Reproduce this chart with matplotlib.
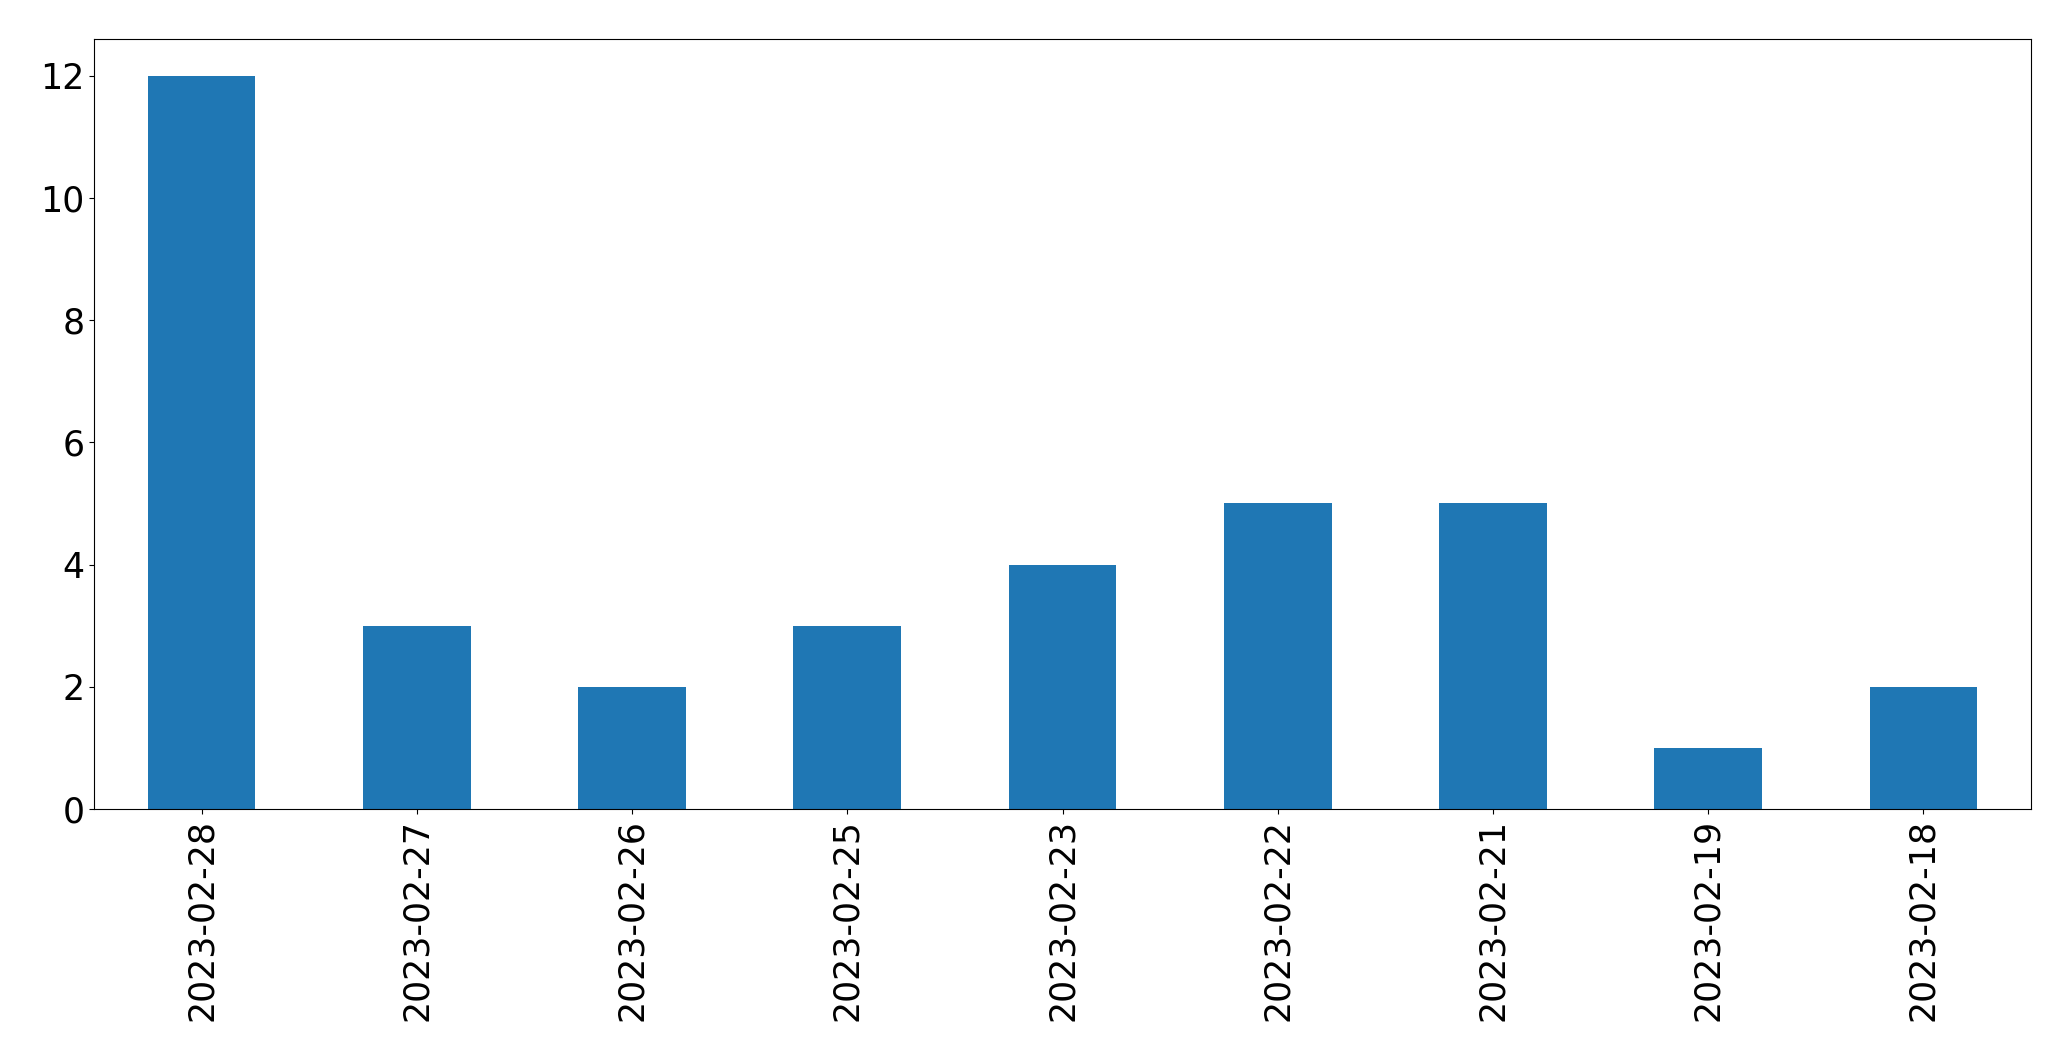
import matplotlib
matplotlib.use("Agg")
import matplotlib.pyplot as plt
import pandas as pd

# data
dates = ['2023-02-28', '2023-02-27', '2023-02-26', '2023-02-25', '2023-02-23',
         '2023-02-22', '2023-02-21', '2023-02-19', '2023-02-18']
counts = [12, 3, 2, 3, 4, 5, 5, 1, 2]

s = pd.Series(counts, index=dates)

fig = plt.figure(figsize=(20.71, 10.61), dpi=100)
ax = fig.add_axes([94 / 2071, 1 - 809 / 1061, 1937 / 2071, 770 / 1061])
s.plot(kind="bar", ax=ax, color="#1f77b4", fontsize=25)
ax.tick_params(axis="both", labelsize=25)

fig.savefig("out.png", dpi=100)
